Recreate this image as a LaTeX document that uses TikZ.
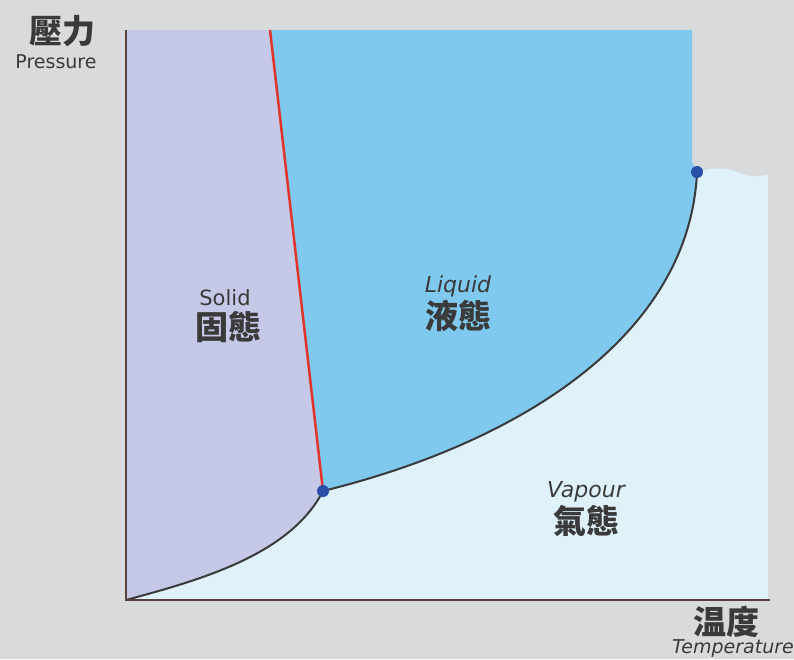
\documentclass[tikz,border=0pt]{standalone}
\usepackage{fontspec}
\newfontfamily\cjk{Noto Sans CJK TC}
\setmainfont{DejaVu Sans}
\definecolor{bggray}{HTML}{D9DADB}
\definecolor{solidc}{HTML}{C5C8E6}
\definecolor{liquidc}{HTML}{7FC8EE}
\definecolor{vapourc}{HTML}{DFF1FB}
\definecolor{axisc}{HTML}{5A3F3F}
\definecolor{dotc}{HTML}{2A4FA8}
\definecolor{txt}{HTML}{3A3A3A}
\definecolor{curvec}{HTML}{3A3A3A}
\definecolor{fusionc}{HTML}{E0352B}
\begin{document}
\begin{tikzpicture}[x=1pt,y=-1pt,
  en/.style={text=txt,font=\fontsize{21}{23}\selectfont,inner sep=0pt},
  zh/.style={text=txt,font=\cjk\fontsize{33}{35}\selectfont\bfseries,inner sep=0pt},
  dotst/.style={circle,fill=dotc,inner sep=0pt,minimum size=12pt}]
\useasboundingbox (0,0) rectangle (794,659);
\fill[bggray] (0,0) rectangle (794,659);
% coordinates
\coordinate (O) at (126,600);
\coordinate (T) at (323,491);
\coordinate (C) at (697,172);
\coordinate (F) at (270,30);
\coordinate (Ytop) at (126,30);
\coordinate (Xend) at (770,600);
% vapour region
\fill[vapourc] (O) .. controls (200,580) and (290,555) .. (T)
  .. controls (530,440) and (690,330) .. (C)
  .. controls (715,166) and (730,168) .. (745,175)
  .. controls (755,178) and (762,175) .. (768,175)
  -- (768,600) -- cycle;
% solid region
\fill[solidc] (O) -- (Ytop) -- (F) -- (T) .. controls (290,555) and (200,580) .. (O) -- cycle;
% liquid region
\fill[liquidc] (F) -- (692,30) -- (692,162) .. controls (694,166) and (696,169) .. (C)
  .. controls (690,330) and (530,440) .. (T) -- cycle;
% curves
\draw[curvec,line width=2pt] (O) .. controls (200,580) and (290,555) .. (T);
\draw[curvec,line width=2pt] (T) .. controls (530,440) and (690,330) .. (C);
\draw[fusionc,line width=2.5pt] (F) -- (T);
% axes
\draw[axisc,line width=2.5pt] (Ytop) -- (O) -- (Xend);
% points
\node[dotst] (tp) at (T) {};
\node[dotst] (cp) at (C) {};
% labels
\node[zh] (plab) at (62,31) {壓力};
\node[en,font=\fontsize{19}{21}\selectfont] (pen) at (56,62) {Pressure};
\node[zh] (tlab) at (726,622) {温度};
\node[en,font=\itshape\fontsize{19}{21}\selectfont] (ten) at (733,649) {Temperature};
\node[en] (sen) at (225,298) {Solid};
\node[zh] (szh) at (228,327) {固態};
\node[en,font=\itshape\fontsize{22}{24}\selectfont] (len) at (458,286) {Liquid};
\node[zh] (lzh) at (458,316) {液態};
\node[en,font=\itshape\fontsize{22}{24}\selectfont] (ven) at (586,492) {Vapour};
\node[zh] (vzh) at (586,521) {氣態};
\end{tikzpicture}
\end{document}
